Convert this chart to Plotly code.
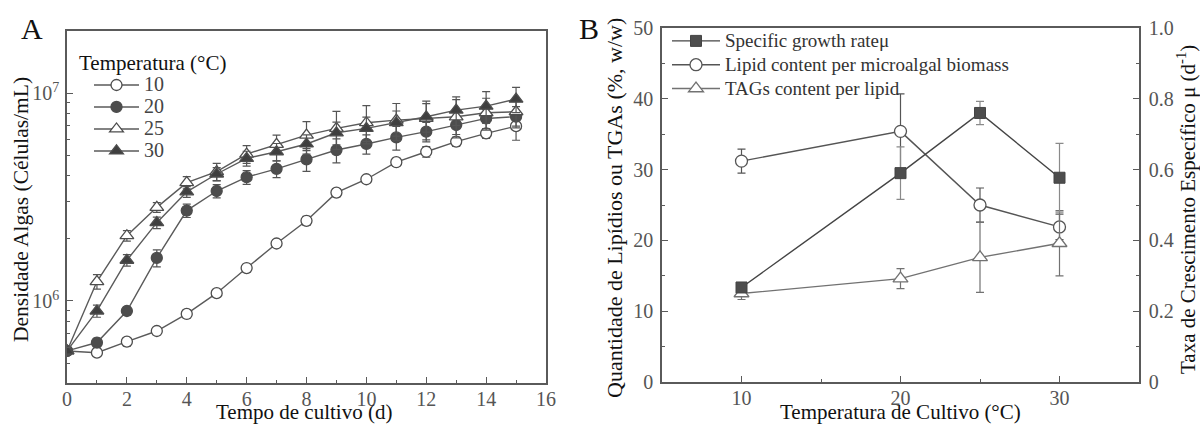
import plotly.graph_objects as go

# ---------------- Panel A data ----------------
days = list(range(16))
dens_10 = [5.75e5, 5.64e5, 6.37e5, 7.17e5, 8.66e5, 1.09e6, 1.44e6, 1.89e6, 2.43e6, 3.32e6, 3.85e6, 4.65e6, 5.22e6, 5.84e6, 6.40e6, 6.93e6]
err_10 = [2e4, 2e4, 3e4, 3e4, 4e4, 4e4, 6e4, 8e4, 1.2e5, 1.5e5, 1.5e5, 2.0e5, 3.0e5, 3.0e5, 3.5e5, 1.0e6]
dens_20 = [5.75e5, 6.31e5, 8.95e5, 1.61e6, 2.72e6, 3.38e6, 3.94e6, 4.32e6, 4.80e6, 5.32e6, 5.69e6, 6.12e6, 6.52e6, 7.02e6, 7.55e6, 7.70e6]
err_20 = [2e4, 3e4, 4e4, 1.5e5, 2.0e5, 2.5e5, 3.0e5, 4.0e5, 6.0e5, 7.0e5, 6.0e5, 8.0e5, 7.0e5, 7.0e5, 8.0e5, 9.0e5]
dens_25 = [5.75e5, 1.24e6, 2.06e6, 2.82e6, 3.71e6, 4.19e6, 5.09e6, 5.67e6, 6.28e6, 6.76e6, 7.20e6, 7.41e6, 7.55e6, 7.69e6, 8.04e6, 8.13e6]
err_25 = [2e4, 1.0e5, 1.2e5, 1.5e5, 2.5e5, 4.0e5, 5.0e5, 6.0e5, 1.0e6, 1.4e6, 1.5e6, 1.5e6, 1.6e6, 1.6e6, 1.4e6, 1.2e6]
dens_30 = [5.75e5, 8.95e5, 1.57e6, 2.38e6, 3.35e6, 4.08e6, 4.85e6, 5.22e6, 5.69e6, 6.44e6, 6.76e6, 7.20e6, 7.69e6, 8.28e6, 8.65e6, 9.35e6]
err_30 = [2e4, 6e4, 1.0e5, 1.5e5, 2.0e5, 3.0e5, 4.0e5, 5.0e5, 6.0e5, 8.0e5, 9.0e5, 1.0e6, 1.2e6, 1.3e6, 1.5e6, 1.3e6]
temp_labels_A = ["10", "20", "25", "30"]

# ---------------- Panel B data ----------------
temps = [10, 20, 25, 30]
growth_rate = [0.267, 0.59, 0.76, 0.577]
growth_err = [0.012, 0.074, 0.033, 0.097]
lipid = [31.2, 35.4, 25.0, 21.9]
lipid_err = [1.7, 5.3, 2.4, 1.8]
tags = [12.5, 14.6, 17.6, 19.6]
tags_err = [0.85, 1.4, 4.95, 4.6]
names_B = ["Specific growth rate\u03bc", "Lipid content per microalgal biomass", "TAGs content per lipid"]

FONT = "Liberation Serif, Times New Roman, serif"
W, H = 1200, 426
AX = "#5a5a5a"
TICKC = "#555555"

def px(x):
    return x / W

def py(y):
    return 1 - y / H

def big(t, size, color):
    return '<span style="font-size:%dpx;color:%s">%s</span>' % (size, color, t)

fig = go.Figure()

# Panel A traces
stylesA = [("circle", 11, "white"), ("circle", 11, "#4d4d4d"),
           ("triangle-up", 12, "white"), ("triangle-up", 12, "#3f3f3f")]
for lab, ys, es, (sym, sz, fill) in zip(temp_labels_A, [dens_10, dens_20, dens_25, dens_30],
                                        [err_10, err_20, err_25, err_30], stylesA):
    fig.add_trace(go.Scatter(
        x=days, y=ys, name=big(lab, 20, "#444"), mode="lines+markers",
        line=dict(color="#5a5a5a", width=1.4),
        marker=dict(symbol=sym, size=sz, color=fill, line=dict(color="#4d4d4d", width=1.3)),
        error_y=dict(type="data", array=es, visible=True, color="#555555", thickness=1.2, width=4),
        xaxis="x", yaxis="y", legend="legend",
    ))

# Panel B traces
fig.add_trace(go.Scatter(
    x=temps, y=growth_rate, name=big(names_B[0], 19, "#333"), mode="lines+markers",
    line=dict(color="#444444", width=1.4),
    marker=dict(symbol="square", size=11, color="#4d4d4d", line=dict(color="#444444", width=1)),
    error_y=dict(type="data", array=growth_err, visible=True, color="#8a8a8a", thickness=1.2, width=4),
    xaxis="x2", yaxis="y3", legend="legend2",
))
fig.add_trace(go.Scatter(
    x=temps, y=lipid, name=big(names_B[1], 19, "#333"), mode="lines+markers",
    line=dict(color="#555555", width=1.4),
    marker=dict(symbol="circle", size=12, color="white", line=dict(color="#555555", width=1.3)),
    error_y=dict(type="data", array=lipid_err, visible=True, color="#555555", thickness=1.2, width=4),
    xaxis="x2", yaxis="y2", legend="legend2",
))
fig.add_trace(go.Scatter(
    x=temps, y=tags, name=big(names_B[2], 19, "#333"), mode="lines+markers",
    line=dict(color="#727272", width=1.4),
    marker=dict(symbol="triangle-up", size=13, color="white", line=dict(color="#727272", width=1.3)),
    error_y=dict(type="data", array=tags_err, visible=True, color="#727272", thickness=1.2, width=4),
    xaxis="x2", yaxis="y2", legend="legend2",
))

tickfont = dict(family=FONT, size=20, color=TICKC)
axis_common = dict(showline=True, linecolor=AX, linewidth=1.5, ticks="inside",
                   tickcolor=AX, tickwidth=1.3, ticklen=6, showgrid=False,
                   zeroline=False, tickfont=tickfont, automargin=False)

minor_log = [5e5, 6e5, 7e5, 8e5, 9e5, 2e6, 3e6, 4e6, 5e6, 6e6, 7e6, 8e6, 9e6]

fig.update_layout(
    template="none",
    width=W, height=H,
    margin=dict(l=0, r=0, t=0, b=0, pad=0),
    paper_bgcolor="white", plot_bgcolor="white",
    font=dict(family=FONT, size=20, color="#333"),
    xaxis=dict(domain=[px(67), px(546)], range=[0, 16], dtick=2, mirror=True,
               anchor="y", ticklabelstandoff=-3,
               minor=dict(dtick=1, ticks="inside", ticklen=3, tickcolor=AX, tickwidth=1.2),
               **axis_common),
    yaxis=dict(domain=[py(383), py(31)], type="log", range=[5.6054, 7.2985], mirror=True,
               anchor="x", tickmode="array", tickvals=[1e6, 1e7],
               ticktext=["10<sup>6</sup>", "10<sup>7</sup>"], ticklabelstandoff=2,
               minor=dict(tickmode="array", tickvals=minor_log, ticks="inside", ticklen=3,
                          tickcolor=AX, tickwidth=1.2),
               **axis_common),
    xaxis2=dict(domain=[px(662), px(1139)], range=[5, 35], tickvals=[10, 20, 30], mirror=True,
                anchor="y2", ticklabelstandoff=-3,
                minor=dict(tickmode="array", tickvals=[15, 25], ticks="inside",
                           ticklen=3.5, tickcolor=AX, tickwidth=1.2),
                **axis_common),
    yaxis2=dict(domain=[py(382), py(28)], range=[0, 50], dtick=10, anchor="x2",
                ticklabelstandoff=3,
                minor=dict(dtick=5, ticks="inside", ticklen=3.5, tickcolor=AX, tickwidth=1.2),
                **axis_common),
    yaxis3=dict(overlaying="y2", side="right", range=[0, 1.0], anchor="x2",
                tickvals=[0, 0.2, 0.4, 0.6, 0.8, 1.0], ticktext=["0", "0.2", "0.4", "0.6", "0.8", "1.0"],
                ticklabelstandoff=4,
                minor=dict(tickmode="array", tickvals=[0.1, 0.3, 0.5, 0.7, 0.9], ticks="inside",
                           ticklen=3.5, tickcolor=AX, tickwidth=1.2),
                **axis_common),
    legend=dict(x=px(89), y=py(69), xanchor="left", yanchor="top",
                bgcolor="rgba(0,0,0,0)", borderwidth=0,
                font=dict(family=FONT, size=14.6, color="#444"),
                itemwidth=45, tracegroupgap=0),
    legend2=dict(x=px(667), y=py(24), xanchor="left", yanchor="top",
                 bgcolor="rgba(0,0,0,0)", borderwidth=0,
                 font=dict(family=FONT, size=16, color="#333"),
                 itemwidth=48, tracegroupgap=0),
    showlegend=True,
)

ann = [
    dict(text="A", x=px(31.5), y=py(29), font=dict(family=FONT, size=30, color="#111")),
    dict(text="B", x=px(589), y=py(28), font=dict(family=FONT, size=30, color="#111")),
    dict(text="Temperatura (\u00b0C)", x=px(152.5), y=py(63), font=dict(family=FONT, size=21, color="#111")),
    dict(text="Tempo de cultivo (d)", x=px(304), y=py(412), font=dict(family=FONT, size=21, color="#111")),
    dict(text="Densidade Algas (C\u00e9lulas/mL)", x=px(21), y=py(210), textangle=-90,
         font=dict(family=FONT, size=21.5, color="#111")),
    dict(text="Temperatura de Cultivo (\u00b0C)", x=px(900), y=py(412), font=dict(family=FONT, size=21, color="#111")),
    dict(text="Quantidade de Lip\u00eddios ou TGAs (%, w/w)", x=px(615), y=py(208), textangle=-90,
         font=dict(family=FONT, size=22, color="#111")),
    dict(text="Taxa de Crescimento Espec\u00edfico \u03bc (d<sup>-1</sup>)", x=px(1186), y=py(210), textangle=-90,
         font=dict(family=FONT, size=21, color="#111")),
]
for a in ann:
    fig.add_annotation(xref="paper", yref="paper", showarrow=False,
                       xanchor="center", yanchor="middle", **a)

fig.write_html("out.html")
